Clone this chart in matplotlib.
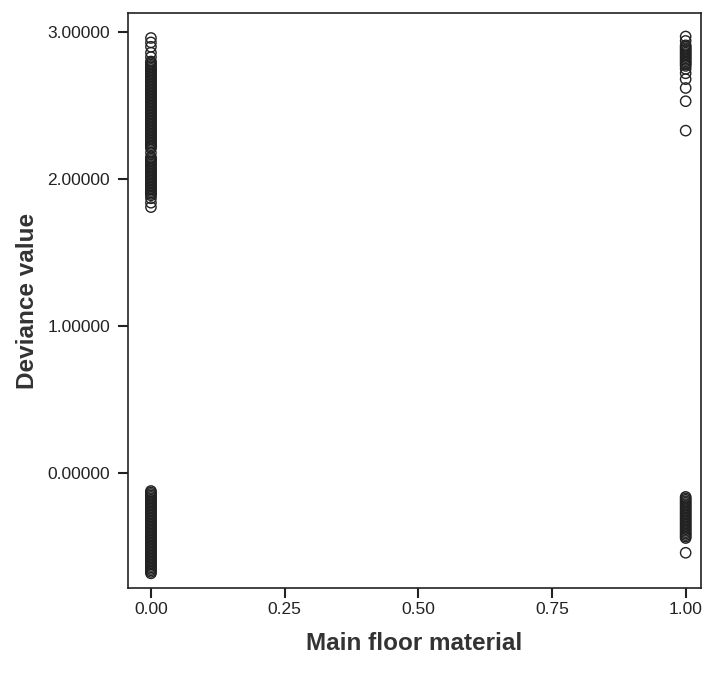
import matplotlib
matplotlib.use("Agg")
import matplotlib.pyplot as plt

plt.rcParams['font.family'] = ['Liberation Sans', 'DejaVu Sans']

# floor material = 0, positive deviance residuals
dev0_hi = [1.81, 1.84, 1.87,
           1.89, 1.90, 1.91, 1.92, 1.93, 1.94, 1.95, 1.96, 1.97, 1.98,
           1.99, 2.00, 2.01, 2.02, 2.03, 2.04, 2.05, 2.06, 2.07, 2.08,
           2.09, 2.10, 2.11, 2.12, 2.13, 2.14, 2.15,
           2.18,
           2.21, 2.22, 2.23, 2.24, 2.25, 2.26, 2.27, 2.28, 2.29, 2.30,
           2.31, 2.32, 2.33, 2.34, 2.35, 2.36, 2.37, 2.38, 2.39, 2.40,
           2.41, 2.42, 2.43, 2.44, 2.45, 2.46, 2.47, 2.48, 2.49, 2.50,
           2.51, 2.52, 2.53, 2.54, 2.55, 2.56, 2.57, 2.58, 2.59, 2.60,
           2.61, 2.62, 2.63, 2.64, 2.65, 2.66, 2.67, 2.68, 2.69, 2.70,
           2.71, 2.72, 2.73, 2.74, 2.75, 2.76, 2.77, 2.78, 2.79, 2.80,
           2.83, 2.86, 2.90, 2.93, 2.96]
# floor material = 0, negative deviance residuals
dev0_lo = [-0.12, -0.13, -0.14, -0.15, -0.16, -0.17, -0.18, -0.19, -0.20,
           -0.21, -0.22, -0.23, -0.24, -0.25, -0.26, -0.27, -0.28, -0.29,
           -0.30, -0.31, -0.32, -0.33, -0.34, -0.35, -0.36, -0.37, -0.38,
           -0.39, -0.40, -0.41, -0.42, -0.43, -0.44, -0.45, -0.46, -0.47,
           -0.48, -0.49, -0.50, -0.51, -0.52, -0.53, -0.54, -0.55, -0.56,
           -0.57, -0.58, -0.59, -0.60, -0.61, -0.62, -0.63, -0.64, -0.65,
           -0.66, -0.67, -0.68]
# floor material = 1
dev1_hi = [2.33, 2.53, 2.62, 2.68, 2.72, 2.75,
           2.77, 2.78, 2.79, 2.80, 2.81, 2.82, 2.83, 2.84, 2.85, 2.86,
           2.87, 2.88, 2.89, 2.90, 2.91, 2.94, 2.97]
dev1_lo = [-0.16, -0.17, -0.18, -0.19, -0.20, -0.21, -0.22, -0.23, -0.24,
           -0.25, -0.26, -0.27, -0.28, -0.29, -0.30, -0.31, -0.32, -0.33,
           -0.34, -0.35, -0.36, -0.37, -0.38, -0.39, -0.40, -0.41, -0.42,
           -0.43, -0.44, -0.54]

x_ticks = [0.0, 0.25, 0.5, 0.75, 1.0]
y_ticks = [0.0, 1.0, 2.0, 3.0]

fig = plt.figure(figsize=(7.07, 6.83), dpi=100)
ax = fig.add_axes([0.181, 0.139, 0.810, 0.842])

for xv, ys in [(0.0, dev0_hi), (0.0, dev0_lo), (1.0, dev1_hi), (1.0, dev1_lo)]:
    ax.scatter([xv] * len(ys), ys, s=55, facecolors='none',
               edgecolors='#222222', linewidths=1.0, zorder=3)

ax.set_xlim(-0.043, 1.028)
ax.set_ylim(-0.78, 3.13)
ax.set_xticks(x_ticks)
ax.set_xticklabels(['%.2f' % v for v in x_ticks])
ax.set_yticks(y_ticks)
ax.set_yticklabels(['%.5f' % v for v in y_ticks])

ax.tick_params(axis='both', direction='out', length=7, width=1.5,
               labelsize=12.5, colors='#222222')
ax.tick_params(axis='x', pad=3)
ax.tick_params(axis='y', pad=6)
for sp in ax.spines.values():
    sp.set_linewidth(1.2)
    sp.set_color('#222222')

ax.set_xlabel('Main floor material', fontsize=17.5, fontweight='bold',
              color='#333333', labelpad=11)
ax.set_ylabel('Deviance value', fontsize=17.5, fontweight='bold',
              color='#333333', labelpad=6)

fig.savefig('out.png', dpi=100)
